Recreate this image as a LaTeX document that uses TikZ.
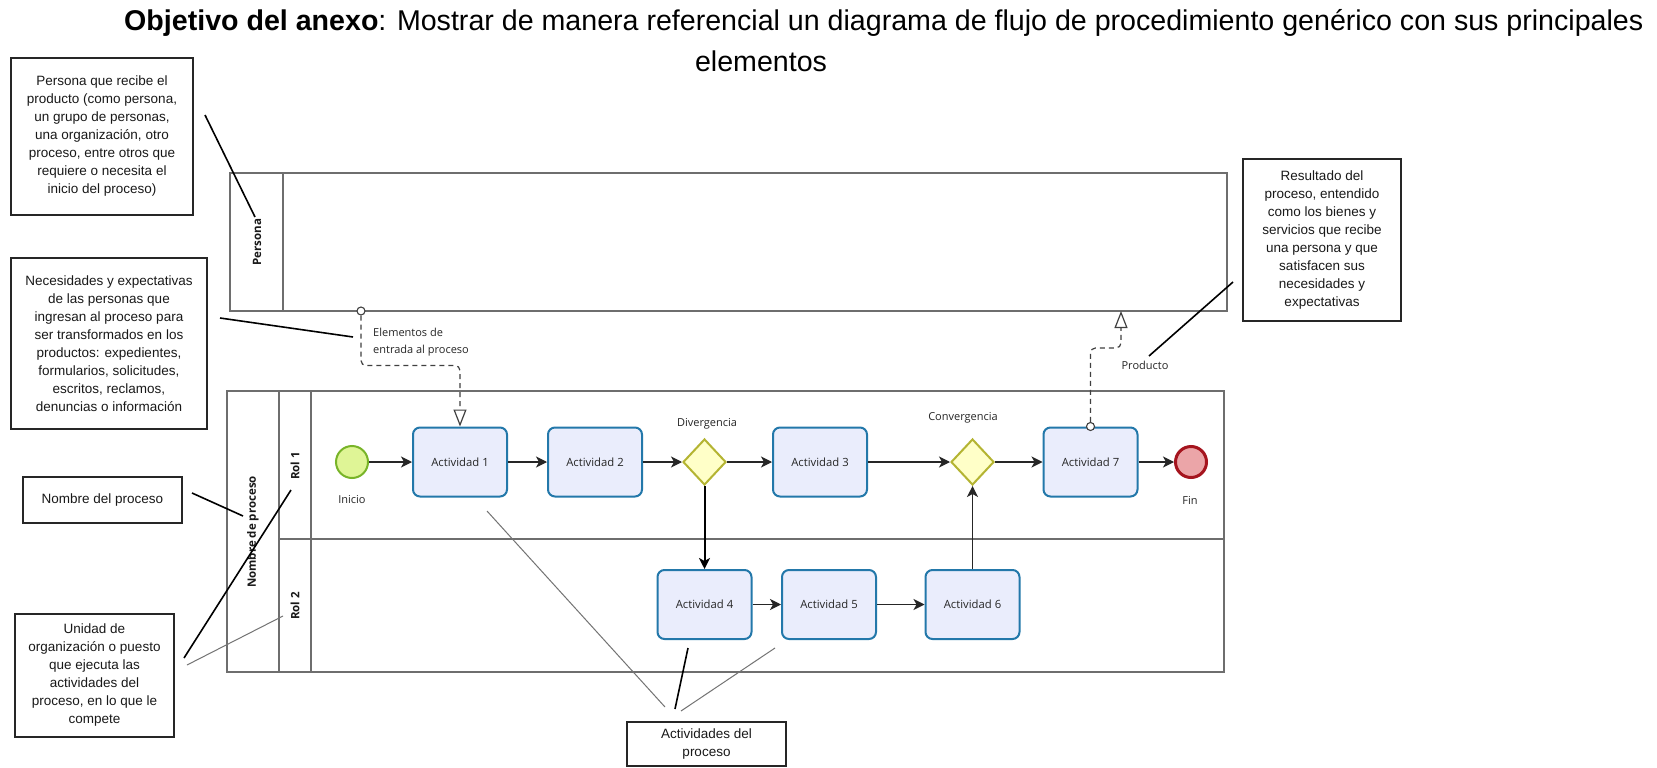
\documentclass[tikz,border=0pt]{standalone}
\usepackage{fontspec}
\setmainfont{Liberation Sans}
\newfontfamily\bpmnfont{Open Sans}
\usetikzlibrary{shapes.geometric,arrows.meta,calc}

\definecolor{taskfill}{RGB}{234,237,252}
\definecolor{taskline}{RGB}{35,120,170}
\definecolor{startfill}{RGB}{223,245,150}
\definecolor{startline}{RGB}{120,180,40}
\definecolor{endfill}{RGB}{235,165,168}
\definecolor{endline}{RGB}{165,20,30}
\definecolor{gwfill}{RGB}{255,255,200}
\definecolor{gwline}{RGB}{180,180,50}
\definecolor{poolline}{RGB}{110,110,110}

\begin{document}
\begin{tikzpicture}[x=1pt,y=-1pt,
  task/.style={draw=taskline, fill=taskfill, line width=2pt, rounded corners=7pt, minimum width=94pt, minimum height=69pt, inner sep=0pt, font=\bpmnfont\fontsize{11.3}{13}\selectfont, text=black!85},
  gw/.style={diamond, draw=gwline, fill=gwfill, line width=2pt, minimum width=43pt, minimum height=46pt, inner sep=0pt},
  startev/.style={circle, draw=startline, fill=startfill, line width=2pt, minimum size=32pt, inner sep=0pt},
  endev/.style={circle, draw=endline, fill=endfill, line width=3pt, minimum size=31pt, inner sep=0pt},
  lbl/.style={font=\bpmnfont\fontsize{11}{17}\selectfont, text=black!85, inner sep=0pt},
  vlbl/.style={font=\bpmnfont\bfseries\fontsize{11.5}{13}\selectfont, rotate=90, inner sep=0pt, text=black!90},
  pool/.style={draw=poolline, line width=1.3pt},
  flow/.style={draw=black!85, line width=1.3pt, -{Stealth[length=11pt,width=11pt,inset=3pt]}},
  msg/.style={draw=black!75, line width=1.2pt, dash pattern=on 5pt off 4pt, rounded corners=5pt},
  msgtip/.style={-{Triangle[open,length=17pt,width=13pt]}},
  msgdot/.style={circle, draw=black!75, line width=1.1pt, fill=white, minimum size=8pt, inner sep=0pt},
  note/.style={draw=black!85, line width=1.6pt, align=center, inner sep=0pt, font=\fontsize{13.5}{18}\selectfont, text=black!90},
  lead/.style={draw=black, line width=1.6pt},
  leadthin/.style={draw=black!55, line width=1pt},
  titlefont/.style={inner sep=0pt, font=\fontsize{28.6}{32}\selectfont},
]
\useasboundingbox (0,0) rectangle (1657,768);
\fill[white] (0,0) rectangle (1657,768);

% title
\node[anchor=base west, titlefont] (title) at (124,31)
  {\textbf{Objetivo del anexo}: Mostrar de manera referencial un diagrama de flujo de procedimiento genérico con sus principales};
\node[anchor=base, titlefont] (title2) at (761,71) {elementos};

% pools
\draw[pool] (230,173) rectangle (1227,311);
\draw[pool] (283,173) -- (283,311);
\node[vlbl] (lper) at (257,242) {Persona};

\draw[pool] (227,391) rectangle (1224,672);
\draw[pool] (279,391) -- (279,672);
\draw[pool] (311,391) -- (311,672);
\draw[pool] (279,539) -- (1224,539);
\node[vlbl] (lproc) at (253,532) {Nombre de proceso};
\node[vlbl] (lrol1) at (295,466) {Rol 1};
\node[vlbl] (lrol2) at (295,606) {Rol 2};

% events, tasks, gateways
\node[startev] (S) at (352,462) {};
\node[lbl] (tIni) at (352,500) {Inicio};
\node[task] (A1) at (460,462) {Actividad 1};
\node[task] (A2) at (595,462) {Actividad 2};
\node[gw] (Div) at (704.5,462) {};
\node[lbl] (tDiv) at (707,424) {Divergencia};
\node[task] (A3) at (820,462) {Actividad 3};
\node[gw] (Conv) at (972.5,462) {};
\node[lbl] (tConv) at (963,418) {Convergencia};
\node[task] (A7) at (1090.5,462) {Actividad 7};
\node[endev] (E) at (1191,462) {};
\node[lbl] (tFin) at (1190,500) {Fin};
\node[task] (A4) at (704.5,604.5) {Actividad 4};
\node[task] (A5) at (829,604.5) {Actividad 5};
\node[task] (A6) at (972.5,604.5) {Actividad 6};

% sequence flows
\draw[flow] (S) -- (A1);
\draw[flow] (A1) -- (A2);
\draw[flow] (A2) -- (Div);
\draw[flow] (Div) -- (A3);
\draw[flow] (A3) -- (Conv);
\draw[flow] (Conv) -- (A7);
\draw[flow] (A7) -- (E);
\draw[flow, draw=black, line width=2pt] (Div) -- (A4);
\draw[flow] (A4) -- (A5);
\draw[flow] (A5) -- (A6);
\draw[flow] (A6) -- (Conv);

% message flows
\node[msgdot] (m1) at (361,311) {};
\draw[msg, msgtip] (m1.south) -- ++(0,50) -| (A1.north);
\node[lbl, anchor=west, align=left] (tElem) at (373,342.5) {Elementos de\\entrada al proceso};

\node[msgdot] (m2) at (A7.north) {};
\coordinate (p2) at (1121,311);
\draw[msg, msgtip] (m2.north) -- ++(0,-74) -| (p2);
\node[lbl] (tProd) at (1145,365) {Producto};

% annotation boxes
\node[note, minimum width=182pt, minimum height=157pt] (n1) at (102,136.5)
  {Persona que recibe el\\producto (como persona,\\un grupo de personas,\\una organización, otro\\proceso, entre otros que\\requiere o necesita el\\inicio del proceso)};
\node[note, minimum width=196pt, minimum height=171pt] (n2) at (109,343.5)
  {Necesidades y expectativas\\de las personas que\\ingresan al proceso para\\ser transformados en los\\productos: expedientes,\\formularios, solicitudes,\\escritos, reclamos,\\denuncias o información};
\node[note, minimum width=159pt, minimum height=46pt] (n3) at (102.5,500) {Nombre del proceso};
\node[note, minimum width=159pt, minimum height=123pt] (n4) at (94.5,675.5)
  {Unidad de\\organización o puesto\\que ejecuta las\\actividades del\\proceso, en lo que le\\compete};
\node[note, minimum width=158pt, minimum height=162pt] (n5) at (1322,240)
  {Resultado del\\proceso, entendido\\como los bienes y\\servicios que recibe\\una persona y que\\satisfacen sus\\necesidades y\\expectativas};
\node[note, minimum width=159pt, minimum height=44pt] (n6) at (706.5,744) {Actividades del\\proceso};

% leader lines
\coordinate (c1a) at (205,115); \coordinate (c1b) at (255,217);
\draw[lead] (c1a) -- (c1b);
\coordinate (c2a) at (220,318); \coordinate (c2b) at (353,337);
\draw[lead] (c2a) -- (c2b);
\coordinate (c3a) at (192,493); \coordinate (c3b) at (243,516);
\draw[lead] (c3a) -- (c3b);
\coordinate (c4a) at (184,658); \coordinate (c4b) at (291,490);
\draw[lead] (c4a) -- (c4b);
\coordinate (c4c) at (187,665); \coordinate (c4d) at (283,616);
\draw[leadthin] (c4c) -- (c4d);
\coordinate (c5a) at (1233,282); \coordinate (c5b) at (1149,356);
\draw[lead] (c5a) -- (c5b);
\coordinate (c6a) at (487,511); \coordinate (c6b) at (665,707);
\draw[leadthin] (c6a) -- (c6b);
\coordinate (c6c) at (688,648); \coordinate (c6d) at (675,709);
\draw[lead] (c6c) -- (c6d);
\coordinate (c6e) at (775,648); \coordinate (c6f) at (681,711);
\draw[leadthin] (c6e) -- (c6f);
\end{tikzpicture}
\end{document}
